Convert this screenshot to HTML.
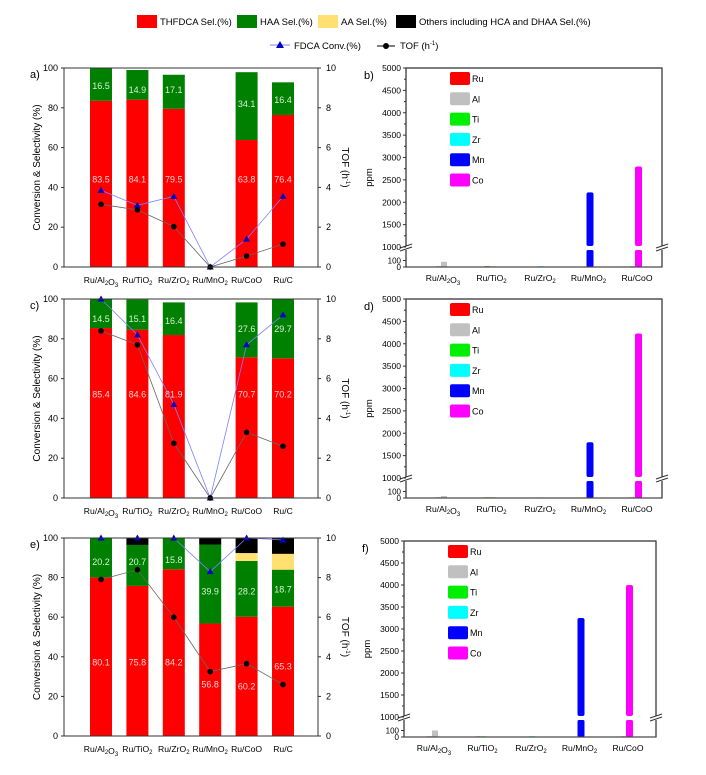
<!DOCTYPE html>
<html><head><meta charset="utf-8"><style>
html,body{margin:0;padding:0;background:#fff;}
svg{display:block;font-family:"Liberation Sans",Arial,sans-serif;}
</style></head><body>
<svg id="fig" width="706" height="775" viewBox="0 0 706 775" xmlns="http://www.w3.org/2000/svg">
<g font-size="9.5">
 <rect x="137" y="15" width="20" height="13" fill="#ff0000"/>
 <text x="160" y="25">THFDCA Sel.(%)</text>
 <rect x="237" y="15" width="20" height="13" fill="#008000"/>
 <text x="260" y="25">HAA Sel.(%)</text>
 <rect x="318" y="15" width="20" height="13" fill="#ffe070"/>
 <text x="341" y="25">AA Sel.(%)</text>
 <rect x="396" y="15" width="20" height="13" fill="#000"/>
 <text x="419" y="25">Others including HCA and DHAA  Sel.(%)</text>
 <line x1="270" y1="45" x2="290" y2="45" stroke="#8080ff"/>
 <polygon points="280,41 284,48 276,48" fill="#0000cc"/>
 <text x="294" y="49">FDCA Conv.(%)</text>
 <line x1="377" y1="46" x2="395" y2="46" stroke="#000"/>
 <circle cx="386" cy="46" r="3" fill="#000"/>
 <text x="400" y="49">TOF (h<tspan font-size="6" dy="-4">-1</tspan><tspan dy="4">)</tspan></text>
</g>
</svg>
<script>
// Panel a data
const catsL = ["Ru/Al2O3","Ru/TiO2","Ru/ZrO2","Ru/MnO2","Ru/CoO","Ru/C"];
const aThf = [83.5,84.1,79.5,0,63.8,76.4];
const aHaa = [16.5,14.9,17.1,0,34.1,16.4];
const aAa = [0,0,0,0,0,0];
const aOth = [0,0,0,0,0,0];
const aConv = [38.5,31,35.5,0,14,35.5];
const aTof = [3.15,2.87,2.03,0,0.55,1.15];
const aThfLbl = ["83.5","84.1","79.5","","63.8","76.4"];
const aHaaLbl = ["16.5","14.9","17.1","","34.1","16.4"];
const aThfLblY = [44,44,44,0,44,44];
const aHaaLblY = [91,89,89,0,82,84];
// Panel c data
const cThf = [85.4,84.6,81.9,0,70.7,70.2];
const cHaa = [14.5,15.1,16.4,0,27.6,29.7];
const cAa = [0,0,0,0,0,0];
const cOth = [0,0,0,0,0,0];
const cConv = [100,82,47,0,77,92];
const cTof = [8.4,7.7,2.75,0,3.3,2.6];
const cThfLbl = ["85.4","84.6","81.9","","70.7","70.2"];
const cHaaLbl = ["14.5","15.1","16.4","","27.6","29.7"];
const cThfLblY = [52,52,52,0,52,52];
const cHaaLblY = [90,90,89,0,85,85];
// Panel e data
const eThf = [80.1,75.8,84.2,56.8,60.2,65.3];
const eHaa = [20.2,20.7,15.8,39.9,28.2,18.7];
const eAa = [0,0,0,0,4,8];
const eOth = [0,3.5,0,3.3,7.6,8];
const eConv = [100,100,100,83,100,99];
const eTof = [7.9,8.4,6.0,3.25,3.65,2.6];
const eThfLbl = ["80.1","75.8","84.2","56.8","60.2","65.3"];
const eHaaLbl = ["20.2","20.7","15.8","39.9","28.2","18.7"];
const eThfLblY = [37,37,37,26,25,35];
const eHaaLblY = [88,88,89,73,73,74];
const leftTicks = [0,20,40,60,80,100];
const tofTicks = [0,2,4,6,8,10];
// Leaching panels
const catsR = ["Ru/Al2O3","Ru/TiO2","Ru/ZrO2","Ru/MnO2","Ru/CoO"];
const elems = ["Ru","Al","Ti","Zr","Mn","Co"];
const elemColors = ["#ff0000","#c0c0c0","#00ee00","#00ffff","#0000ff","#ff00ff"];
const bRu = [10,12,8,8,10];
const bSup = [80,10,12,2220,2800];
const dRu = [10,10,8,8,10];
const dSup = [30,10,8,1800,4230];
const fRu = [10,10,8,8,10];
const fSup = [100,10,12,3250,4000];
const ppmTicks = [1000,1500,2000,2500,3000,3500,4000,4500,5000];
const ppmLowTicks = [0,100];

const svg = document.getElementById('fig');
const NS = "http://www.w3.org/2000/svg";
function mk(tag, attrs, parent){const e=document.createElementNS(NS,tag);for(const k in attrs)e.setAttribute(k,attrs[k]);(parent||svg).appendChild(e);return e;}
function catLabel(g, x, y, name){
  const t = mk('text',{x:x,y:y,'text-anchor':'middle','font-size':8.6},g);
  const parts = name.split(/(\d)/);
  parts.forEach(p=>{ if(p==='')return; const ts=mk('tspan',{},t); if(/\d/.test(p)){ts.setAttribute('font-size','6');ts.setAttribute('dy','2');ts.textContent=p;const r=mk('tspan',{dy:'-2'},t);r.textContent='';} else ts.textContent=p;});
  
  
}

function leftPanel(id, letter, top, bottom, thf, haa, aa, oth, conv, tof, thfL, haaL, thfY, haaY){
  const L=64, R=318;
  const g = mk('g',{});
  
  
  const y = v => bottom - (v/100)*(bottom-top);
  const yT = v => bottom - (v/10)*(bottom-top);
  const x = i => 101 + i*36.4;
  const bw = 22;
  for(let i=0;i<catsL.length;i++){
    let base=0;
    const segs=[[thf[i],'#ff0000','thfdca'],[haa[i],'#008000','haa'],[aa[i],'#ffe070','aa'],[oth[i],'#000','others']];
    segs.forEach(s=>{ if(s[0]<=0)return; const top2=Math.min(base+s[0],100);
      const r=mk('rect',{x:x(i)-bw/2,y:y(top2),width:bw,height:y(base)-y(top2),fill:s[1]},g);
      
      
      base+=s[0];});
    if(thfL[i]){const t=mk('text',{x:x(i),y:y(thfY[i])+3,'text-anchor':'middle','font-size':9,fill:'#ffd0d0'},g);t.textContent=thfL[i];
      
      }
    if(haaL[i]){const t=mk('text',{x:x(i),y:y(haaY[i])+3,'text-anchor':'middle','font-size':9,fill:'#d8f0d8'},g);t.textContent=haaL[i];
      
      }
  }
  const cp = conv.map((v,i)=>x(i)+','+y(v)).join(' ');
  const cl=mk('polyline',{points:cp,fill:'none',stroke:'#8080ff','stroke-width':0.8},g);
  
  
  const tp = tof.map((v,i)=>x(i)+','+yT(v)).join(' ');
  const tl=mk('polyline',{points:tp,fill:'none',stroke:'#666','stroke-width':0.8},g);
  
  
  conv.forEach((v,i)=>{const p=mk('polygon',{points:`${x(i)},${y(v)-3.5} ${x(i)+3.5},${y(v)+2.5} ${x(i)-3.5},${y(v)+2.5}`,fill:'#0000cc'},g);
    
    });
  tof.forEach((v,i)=>{const c=mk('circle',{cx:x(i),cy:yT(v),r:2.8,fill:'#000'},g);
    
    });
  const fr=mk('rect',{x:L,y:top,width:R-L,height:bottom-top,fill:'none',stroke:'#333','stroke-width':1},g);
  
  
  leftTicks.forEach(v=>{mk('line',{x1:L-3,x2:L,y1:y(v),y2:y(v),stroke:'#333'},g);
    const t=mk('text',{x:L-6,y:y(v)+3,'text-anchor':'end','font-size':9},g);t.textContent=v;
    
    });
  tofTicks.forEach(v=>{mk('line',{x1:R,x2:R+3,y1:yT(v),y2:yT(v),stroke:'#333'},g);
    const t=mk('text',{x:R+8,y:yT(v)+3,'font-size':9},g);t.textContent=v;
    
    });
  catsL.forEach((c,i)=>catLabel(g,x(i),bottom+16,c));
  const mid=(top+bottom)/2;
  const yt=mk('text',{x:0,y:0,'text-anchor':'middle','font-size':10,transform:`translate(40,${mid}) rotate(-90)`},g);yt.textContent='Conversion & Selectivity (%)';
  
  
  const yt2=mk('text',{x:0,y:0,'text-anchor':'middle','font-size':10,transform:`translate(342,${mid}) rotate(90)`},g);
  yt2.innerHTML='TOF (h<tspan font-size="6" dy="-4">-1</tspan><tspan dy="4">)</tspan>';
  
  
  const pl=mk('text',{x:30,y:top+10,'font-size':11},g);pl.textContent=letter+')';
  
  
}

function rightPanel(letter, L, R, top, bottom, x0, ru, sup){
  const g = mk('g',{});
  
  
  const brk = bottom - 20;
  const y = v => v<=270 ? bottom - v*(6.5/100) : (v<1000 ? bottom-17 : brk - (v-1000)/4000*(brk-top));
  const x = i => x0 + i*48.5;
  for(let i=0;i<catsR.length;i++){
    const r1=mk('rect',{x:x(i)-7,y:y(ru[i]),width:5,height:bottom-y(ru[i]),fill:'#ff0000'},g);
    
    
    const col = elemColors[i+1];
    const v = sup[i];
    if(v<=270){
      const r=mk('rect',{x:x(i)-2,y:y(v),width:6,height:bottom-y(v),fill:col},g);
      
      
    } else {
      const r=mk('rect',{x:x(i)-2,y:bottom-17,width:7,height:17,fill:col,rx:1.5},g);
      
      
      const r2=mk('rect',{x:x(i)-2,y:y(v),width:7,height:brk-1-y(v),fill:col,rx:2},g);
      
      
    }
  }
  const fr=mk('rect',{x:L,y:top,width:R-L,height:bottom-top,fill:'none',stroke:'#444','stroke-width':1.2},g);
  
  
  mk('line',{x1:L,y1:top,x2:L,y2:bottom,stroke:'#444','stroke-width':1.2},g);
  mk('line',{x1:R,y1:top,x2:R,y2:bottom,stroke:'#444','stroke-width':1.2},g);
  mk('line',{x1:L,y1:top,x2:R,y2:top,stroke:'#444','stroke-width':1.2},g);
  [L,R].forEach(xx=>{mk('rect',{x:xx-3,y:brk-1,width:6,height:4,fill:'#fff'},g);
    mk('line',{x1:xx-6,y1:brk+1,x2:xx+6,y2:brk-3,stroke:'#333'},g);
    mk('line',{x1:xx-6,y1:brk+4,x2:xx+6,y2:brk,stroke:'#333'},g);});
  ppmTicks.forEach(v=>{mk('line',{x1:L-3,x2:L,y1:y(v),y2:y(v),stroke:'#333'},g);
    if(v<5000) mk('line',{x1:L-2,x2:L,y1:y(v+250),y2:y(v+250),stroke:'#333'},g);
    const t=mk('text',{x:L-5,y:y(v)+3,'text-anchor':'end','font-size':8.5},g);t.textContent=v;
    
    });
  ppmLowTicks.forEach(v=>{mk('line',{x1:L-3,x2:L,y1:y(v),y2:y(v),stroke:'#333'},g);
    const t=mk('text',{x:L-5,y:y(v)+3,'text-anchor':'end','font-size':8},g);t.textContent=v;
    
    });
  catsR.forEach((c,i)=>catLabel(g,x(i),bottom+14,c));
  const yt=mk('text',{x:0,y:0,'text-anchor':'middle','font-size':9.5,transform:`translate(${L-34},${(top+bottom)/2+10}) rotate(-90)`},g);yt.textContent='ppm';
  
  
  const pl=mk('text',{x:L-42,y:top+11,'font-size':11},g);pl.textContent=letter+')';
  
  
  elems.forEach((e,i)=>{const yy=top+4+i*20.3;
    const s=mk('rect',{x:L+44,y:yy,width:20,height:13,fill:elemColors[i],rx:2},g);
    
    
    const t=mk('text',{x:L+66,y:yy+10,'font-size':9},g);t.textContent=e;
    
    });
}

leftPanel('a','a',68,267,aThf,aHaa,aAa,aOth,aConv,aTof,aThfLbl,aHaaLbl,aThfLblY,aHaaLblY);
leftPanel('c','c',299,498,cThf,cHaa,cAa,cOth,cConv,cTof,cThfLbl,cHaaLbl,cThfLblY,cHaaLblY);
leftPanel('e','e',538,736,eThf,eHaa,eAa,eOth,eConv,eTof,eThfLbl,eHaaLbl,eThfLblY,eHaaLblY);
rightPanel('b',406,662,68,267,443,bRu,bSup);
rightPanel('d',406,662,299,498,443,dRu,dSup);
rightPanel('f',404,656,541,737,434,fRu,fSup);
</script>
</body></html>
